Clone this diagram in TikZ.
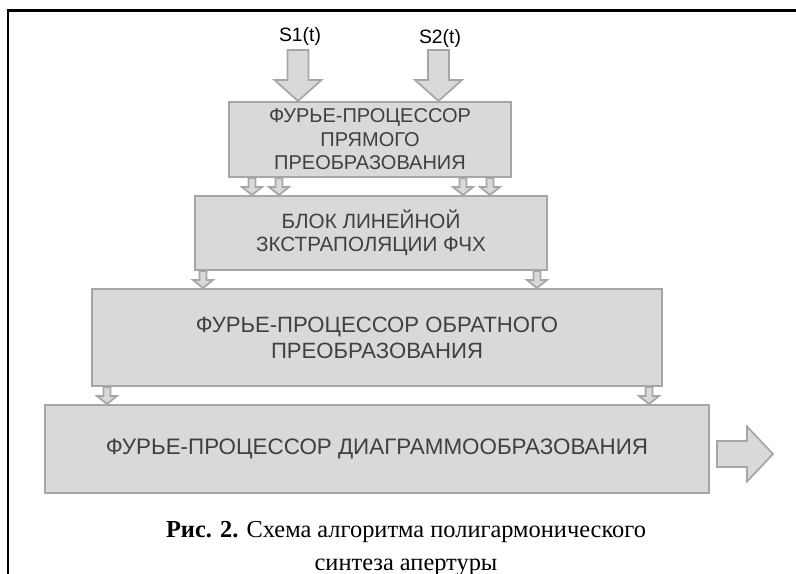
\documentclass[tikz,border=0pt]{standalone}
\usepackage{fontspec}
\setmainfont{Liberation Serif}
\newfontfamily\arialf{Liberation Sans}
\usetikzlibrary{calc}
\definecolor{boxfill}{HTML}{D9D9D9}
\definecolor{boxline}{HTML}{A6A6A6}
\definecolor{boxtext}{HTML}{404040}
\tikzset{
  blockbox/.style={draw=boxline, fill=boxfill, line width=1.5pt, text=boxtext, align=center, inner sep=0pt},
  blockarrow/.style={draw=boxline, fill=boxfill, line width=1.3pt, line join=miter},
  sig/.style={font=\arialf\fontsize{14.5}{16}\selectfont, text=black, inner sep=0pt},
  frameline/.style={draw=black, line width=1.6pt}
}
% x (px), start point, end point, half shaft, half head, head length (px)
\newcommand\blkdown[6]{%
  \path[blockarrow] let \p1=(#2), \p2=(#3) in
  ({(#1-#4)*0.75pt},\y1) -- ({(#1+#4)*0.75pt},\y1) --
  ({(#1+#4)*0.75pt},{\y2+#6*0.75pt}) -- ({(#1+#5)*0.75pt},{\y2+#6*0.75pt}) --
  ({#1*0.75pt},\y2) -- ({(#1-#5)*0.75pt},{\y2+#6*0.75pt}) --
  ({(#1-#4)*0.75pt},{\y2+#6*0.75pt}) -- cycle;}
\begin{document}
\begin{tikzpicture}[x=0.75pt, y=-0.75pt]
\useasboundingbox (0,0) rectangle (796,574);
\path[frameline] (8,574) -- (8,10.5) -- (796,10.5);

% boxes
\node[blockbox, minimum width=282*0.75pt, minimum height=75*0.75pt,
      font=\arialf\fontsize{15}{17.6}\selectfont] (b1) at (370,139.5)
  {ФУРЬЕ-ПРОЦЕССОР\\ПРЯМОГО\\ПРЕОБРАЗОВАНИЯ};
\node[blockbox, minimum width=352*0.75pt, minimum height=74*0.75pt,
      font=\arialf\fontsize{15.5}{17.4}\selectfont] (b2) at (371,233)
  {БЛОК ЛИНЕЙНОЙ\\ЗКСТРАПОЛЯЦИИ ФЧХ};
\node[blockbox, minimum width=570*0.75pt, minimum height=97*0.75pt,
      font=\arialf\fontsize{16.6}{19.5}\selectfont] (b3) at (377,337.5)
  {ФУРЬЕ-ПРОЦЕССОР ОБРАТНОГО\\ПРЕОБРАЗОВАНИЯ};
\node[blockbox, minimum width=664*0.75pt, minimum height=88*0.75pt,
      font=\arialf\fontsize{16.8}{19.5}\selectfont] (b4) at (377,449)
  {ФУРЬЕ-ПРОЦЕССОР ДИАГРАММООБРАЗОВАНИЯ};

% input signals
\node[sig] (s1) at (300,36) {S1(t)};
\node[sig] (s2) at (440,38) {S2(t)};
\coordinate (s1top) at (298,50);
\coordinate (s2top) at (438.5,50);
\blkdown{298}{s1top}{b1.north}{10.5}{23.5}{21}
\blkdown{438.5}{s2top}{b1.north}{10.5}{23.5}{21}

% small arrows
\blkdown{252}{b1.south}{b2.north}{3.5}{10}{8}
\blkdown{279}{b1.south}{b2.north}{3.5}{10}{8}
\blkdown{463}{b1.south}{b2.north}{3.5}{10}{8}
\blkdown{490}{b1.south}{b2.north}{3.5}{10}{8}
\blkdown{203}{b2.south}{b3.north}{3.5}{10}{8}
\blkdown{537}{b2.south}{b3.north}{3.5}{10}{8}
\blkdown{107}{b3.south}{b4.north}{3.5}{10}{8}
\blkdown{649}{b3.south}{b4.north}{3.5}{10}{8}

% output arrow
\coordinate (outs) at (717,454);
\coordinate (outt) at (773,454);
\path[blockarrow] let \p1=(outs), \p2=(outt) in
  (\x1,{\y1+13*0.75pt}) -- ({\x2-26*0.75pt},{\y1+13*0.75pt}) --
  ({\x2-26*0.75pt},{\y1+27.5*0.75pt}) -- (\x2,\y2) --
  ({\x2-26*0.75pt},{\y1-27.5*0.75pt}) -- ({\x2-26*0.75pt},{\y1-13*0.75pt}) --
  (\x1,{\y1-13*0.75pt}) -- cycle;

% caption
\node[anchor=base, inner sep=0pt, font=\fontsize{18.3}{20}\selectfont] (cap1) at (406,537)
  {\textbf{Рис. 2.} Схема алгоритма полигармонического};
\node[anchor=base, inner sep=0pt, font=\fontsize{18.3}{20}\selectfont] (cap2) at (406,570)
  {синтеза апертуры};
\end{tikzpicture}
\end{document}
